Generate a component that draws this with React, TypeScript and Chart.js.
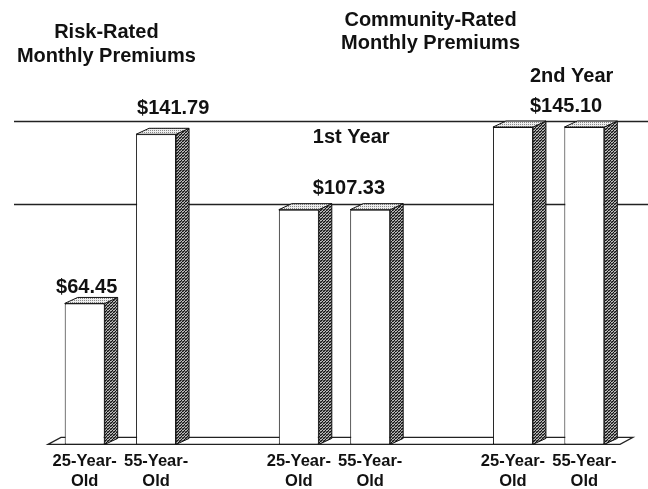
import { useEffect, useRef } from "react";
import { Chart, registerables } from "chart.js";

Chart.register(...registerables);

// ---- data ----
const categories: (string | string[])[] = [
  ["25-Year-", "Old"],
  ["55-Year-", "Old"],
  "",
  ["25-Year-", "Old"],
  ["55-Year-", "Old"],
  "",
  ["25-Year-", "Old"],
  ["55-Year-", "Old"],
];
const premiums: (number | null)[] = [64.45, 141.79, null, 107.33, 107.33, null, 145.1, 145.1];
const groupTitles: string[][] = [
  ["Risk-Rated", "Monthly Premiums"],
  ["Community-Rated", "Monthly Premiums"],
];
const yearLabels = ["1st Year", "2nd Year"];
const yearLevels = [107.33, 145.1];
// which bar each value label belongs to
const valueLabelBars = [0, 1, 3, 6];

// ---- style ----
const FONT = '"Liberation Sans", Arial, Helvetica, sans-serif';
const DX = 13;
const DY = 6;
const INK = "#111";

function makeSidePattern(ctx: CanvasRenderingContext2D) {
  const c = document.createElement("canvas");
  c.width = 3;
  c.height = 3;
  const g = c.getContext("2d")!;
  g.fillStyle = "#bbb";
  g.fillRect(0, 0, 3, 3);
  g.fillStyle = "#111";
  g.fillRect(0, 2, 1, 1);
  g.fillRect(1, 1, 1, 1);
  g.fillRect(2, 0, 1, 1);
  g.fillStyle = "#666";
  g.fillRect(0, 0, 1, 1);
  g.fillRect(2, 2, 1, 1);
  g.fillRect(1, 2, 1, 1);
  return ctx.createPattern(c, "repeat")!;
}

function makeTopPattern(ctx: CanvasRenderingContext2D) {
  const c = document.createElement("canvas");
  c.width = 2;
  c.height = 2;
  const g = c.getContext("2d")!;
  g.fillStyle = "#eee";
  g.fillRect(0, 0, 2, 2);
  g.fillStyle = "#888";
  g.fillRect(0, 0, 1, 1);
  return ctx.createPattern(c, "repeat")!;
}

const threeD = {
  id: "threeD",
  beforeDatasetsDraw(chart: any) {
    const { ctx, chartArea, scales } = chart;
    const y = scales.y;
    ctx.save();
    // year reference lines
    ctx.strokeStyle = "#222";
    ctx.lineWidth = 1.5;
    yearLevels.forEach((v) => {
      const py = Math.round(y.getPixelForValue(v) - DY) + 0.5;
      ctx.beginPath();
      ctx.moveTo(chartArea.left - 35, py);
      ctx.lineTo(chart.width, py);
      ctx.stroke();
    });
    // floor
    const base = y.getPixelForValue(0);
    ctx.fillStyle = "#fff";
    ctx.strokeStyle = "#222";
    ctx.lineWidth = 1.2;
    ctx.beginPath();
    ctx.moveTo(chartArea.left - 1, base);
    ctx.lineTo(chartArea.left - 1 + DX, base - DY - 1);
    ctx.lineTo(chartArea.right + DX, base - DY - 1);
    ctx.lineTo(chartArea.right, base);
    ctx.closePath();
    ctx.fill();
    ctx.stroke();
    ctx.restore();
  },
  afterDatasetsDraw(chart: any) {
    const { ctx } = chart;
    const meta = chart.getDatasetMeta(0);
    const side = makeSidePattern(ctx);
    const top = makeTopPattern(ctx);
    ctx.save();
    ctx.strokeStyle = "#111";
    ctx.lineWidth = 1;
    meta.data.forEach((bar: any, i: number) => {
      if (premiums[i] == null) return;
      const { x, y, base, width } = bar.getProps(["x", "y", "base", "width"], true);
      const l = x - width / 2;
      const r = x + width / 2;
      // side face
      ctx.fillStyle = side;
      ctx.beginPath();
      ctx.moveTo(r, y);
      ctx.lineTo(r + DX, y - DY);
      ctx.lineTo(r + DX, base - DY);
      ctx.lineTo(r, base);
      ctx.closePath();
      ctx.fill();
      ctx.stroke();
      // top face
      ctx.fillStyle = top;
      ctx.beginPath();
      ctx.moveTo(l, y);
      ctx.lineTo(l + DX, y - DY);
      ctx.lineTo(r + DX, y - DY);
      ctx.lineTo(r, y);
      ctx.closePath();
      ctx.fill();
      ctx.stroke();
    });
    ctx.restore();
  },
  afterDraw(chart: any) {
    const { ctx, scales } = chart;
    const xs = scales.x;
    const ys = scales.y;
    const px = (i: number) => xs.getPixelForValue(i);
    const py = (v: number) => ys.getPixelForValue(v);
    ctx.save();
    ctx.fillStyle = INK;
    ctx.textBaseline = "alphabetic";
    ctx.font = `bold 20px ${FONT}`;

    // group titles
    ctx.textAlign = "center";
    const t1x = (px(0) + px(1)) / 2 - 14;
    ctx.fillText(groupTitles[0][0], t1x, 38);
    ctx.fillText(groupTitles[0][1], t1x, 62);
    const t2x = (px(3) + px(7)) / 2 - 11;
    ctx.fillText(groupTitles[1][0], t2x, 26);
    ctx.fillText(groupTitles[1][1], t2x, 49);

    // year labels (left aligned)
    ctx.textAlign = "left";
    ctx.fillText(yearLabels[0], px(3) + 14, py(yearLevels[0]) - 67);
    ctx.fillText(yearLabels[1], px(6) + 17, py(yearLevels[1]) - 45);

    // value labels
    const fmt = (v: number) => "$" + v.toFixed(2);
    const b0 = valueLabelBars[0];
    ctx.textAlign = "center";
    ctx.fillText(fmt(premiums[b0]!), px(b0) + 2, py(premiums[b0]!) - 10);
    ctx.textAlign = "left";
    const b1 = valueLabelBars[1];
    ctx.fillText(fmt(premiums[b1]!), px(b1) - 19, py(premiums[b1]!) - 20);
    const b2 = valueLabelBars[2];
    ctx.fillText(fmt(premiums[b2]!), px(b2) + 14, py(premiums[b2]!) - 16);
    const b3 = valueLabelBars[3];
    ctx.fillText(fmt(premiums[b3]!), px(b3) + 17, py(premiums[b3]!) - 15);
    ctx.restore();
  },
};

export default function App() {
  const ref = useRef<HTMLCanvasElement | null>(null);
  useEffect(() => {
    if (!ref.current) return;
    const chart = new Chart(ref.current, {
      type: "bar",
      data: {
        labels: categories as any,
        datasets: [
          {
            data: premiums as any,
            backgroundColor: "#ffffff",
            borderColor: "#111",
            borderWidth: 1,
            borderSkipped: false,
            categoryPercentage: 1,
            barPercentage: 0.56,
          },
        ],
      },
      options: {
        animation: false,
        responsive: true,
        maintainAspectRatio: false,
        layout: { padding: { left: 49, right: 28, top: 7, bottom: 0 } },
        plugins: { legend: { display: false }, tooltip: { enabled: false } },
        scales: {
          x: {
            grid: { display: false, drawTicks: false },
            border: { display: false },
            ticks: {
              color: INK,
              padding: 7,
              maxRotation: 0,
              autoSkip: false,
              font: { family: FONT, size: 16.5, weight: "bold", lineHeight: 1.2 },
            },
          },
          y: { display: false, min: 0, max: 200 },
        },
      },
      plugins: [threeD],
    });
    return () => chart.destroy();
  }, []);
  return (
    <div style={{ position: "fixed", left: 0, top: 0, width: 648, height: 498, background: "#fff" }}>
      <canvas ref={ref} />
    </div>
  );
}
